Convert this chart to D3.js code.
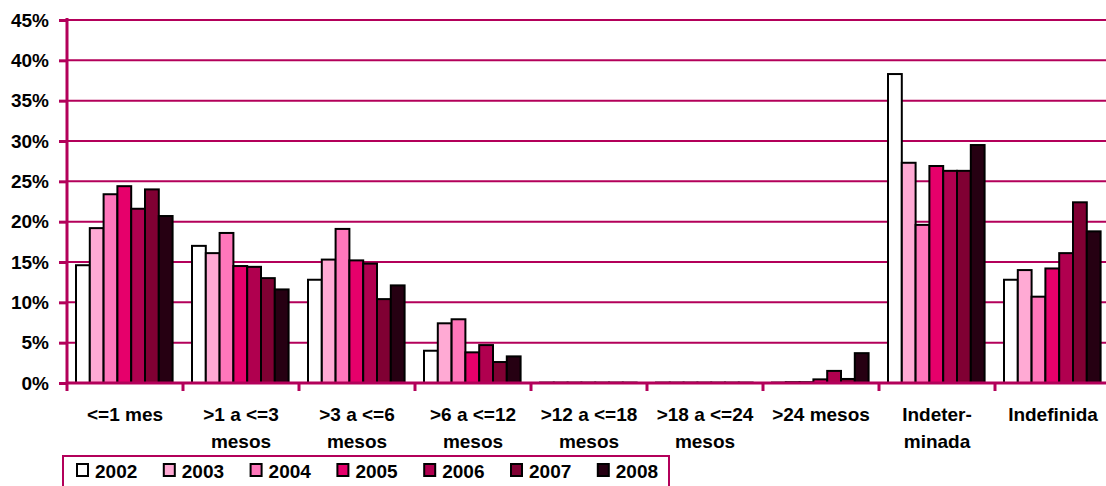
<!DOCTYPE html>
<html>
<head>
<meta charset="utf-8">
<script src="https://cdn.jsdelivr.net/npm/d3@7"></script>
<style>
  body { margin: 0; background: #fff; }
  svg { display: block; font-family: "Liberation Sans", Arial, sans-serif; font-weight: bold; }
</style>
</head>
<body>
<div id="chart"></div>
<script>
var width = 1106,
    height = 486;

var categories = [["<=1 mes"], [">1 a <=3", "mesos"], [">3 a <=6", "mesos"], [">6 a <=12", "mesos"],
  [">12 a <=18", "mesos"], [">18 a <=24", "mesos"], [">24 mesos"], ["Indeter-", "minada"], ["Indefinida"]];
var years = ["2002", "2003", "2004", "2005", "2006", "2007", "2008"];
var colors = ["#ffffff", "#ffaad4", "#ff77bb", "#e6006b", "#b0004f", "#800033", "#260012"];

// one array per year, values in % per category
var v2002 = [14.6, 17.0, 12.8, 4.0, 0.05, 0.05, 0.05, 38.3, 12.8];
var v2003 = [19.2, 16.1, 15.3, 7.4, 0.05, 0.05, 0.1, 27.3, 14.0];
var v2004 = [23.4, 18.6, 19.1, 7.9, 0.05, 0.05, 0.1, 19.6, 10.7];
var v2005 = [24.4, 14.5, 15.2, 3.8, 0.05, 0.05, 0.45, 26.9, 14.2];
var v2006 = [21.6, 14.4, 14.8, 4.7, 0.05, 0.05, 1.5, 26.3, 16.1];
var v2007 = [24.0, 13.0, 10.4, 2.6, 0.05, 0.05, 0.5, 26.3, 22.4];
var v2008 = [20.7, 11.6, 12.1, 3.3, 0.05, 0.05, 3.7, 29.5, 18.8];
var series = [v2002, v2003, v2004, v2005, v2006, v2007, v2008];
var yTicks = [0, 5, 10, 15, 20, 25, 30, 35, 40, 45];

var grid = "#b3005a";
var plotLeft = 67, plotRight = 67 + 9 * 116, plotTop = 20, plotBottom = 383;
var fs = 19;

var svg = d3.select("#chart").append("svg")
    .attr("width", width)
    .attr("height", height);

var x0 = d3.scaleBand().domain(d3.range(categories.length)).range([plotLeft, plotRight]);
var y = d3.scaleLinear().domain([0, 45]).range([plotBottom, plotTop]);
var barW = 13.8;

// gridlines
svg.append("g").selectAll("line")
    .data(yTicks.slice(1))
    .enter().append("line")
    .attr("x1", plotLeft).attr("x2", plotRight)
    .attr("y1", function(d) { return y(d) }).attr("y2", function(d) { return y(d) })
    .attr("stroke", grid).attr("stroke-width", 2);

// bars
var groups = svg.append("g").selectAll("g")
    .data(categories)
    .enter().append("g")
    .attr("transform", function(d, i) { return "translate(" + (x0(i) + 9) + ",0)" });

groups.selectAll("rect")
    .data(function(d, i) { return years.map(function(yr, j) { return { year: yr, j: j, v: series[j][i] } }) })
    .enter().append("rect")
    .attr("x", function(d) { return d.j * barW })
    .attr("width", barW)
    .attr("y", function(d) { return y(d.v) })
    .attr("height", function(d) { return plotBottom - y(d.v) })
    .attr("fill", function(d) { return colors[d.j] })
    .attr("stroke", "#000")
    .attr("stroke-width", 2);

// y axis
var yAxis = svg.append("g").attr("transform", "translate(" + plotLeft + ",0)")
    .call(d3.axisLeft(y).tickValues(yTicks).tickSize(8).tickFormat(function(d) { return d + "%" }));
yAxis.select(".domain").remove();
yAxis.selectAll(".tick line").attr("stroke", grid).attr("stroke-width", 3);
yAxis.selectAll(".tick text").attr("fill", "#000").attr("font-size", fs).attr("x", -18)
    .attr("font-family", "Liberation Sans, Arial, sans-serif").attr("font-weight", "bold");
svg.append("line").attr("x1", plotLeft).attr("x2", plotLeft).attr("y1", plotTop - 2).attr("y2", plotBottom + 1)
    .attr("stroke", grid).attr("stroke-width", 3);

// x axis
svg.append("line").attr("x1", plotLeft).attr("x2", plotRight).attr("y1", plotBottom).attr("y2", plotBottom)
    .attr("stroke", grid).attr("stroke-width", 3);
svg.append("g").selectAll("line")
    .data(d3.range(categories.length + 1))
    .enter().append("line")
    .attr("x1", function(d) { return plotLeft + d * x0.bandwidth() })
    .attr("x2", function(d) { return plotLeft + d * x0.bandwidth() })
    .attr("y1", plotBottom).attr("y2", plotBottom + 8)
    .attr("stroke", grid).attr("stroke-width", 3);

var labels = svg.append("g").selectAll("text")
    .data(categories)
    .enter().append("text")
    .attr("text-anchor", "middle")
    .attr("font-size", fs)
    .attr("x", function(d, i) { return x0(i) + x0.bandwidth() / 2 });
labels.selectAll("tspan")
    .data(function(d) { return d })
    .enter().append("tspan")
    .attr("x", function() { return d3.select(this.parentNode).attr("x") })
    .attr("y", function(d, i) { return 421 + i * 27 })
    .text(function(d) { return d });

// legend
svg.append("rect").attr("x", 63).attr("y", 456).attr("width", 606).attr("height", 40)
    .attr("fill", "none").attr("stroke", grid).attr("stroke-width", 2);
var leg = svg.append("g").selectAll("g")
    .data(years)
    .enter().append("g")
    .attr("transform", function(d, i) { return "translate(" + (77 + i * 86.8) + ",464)" });
leg.append("rect").attr("width", 11).attr("height", 12)
    .attr("fill", function(d, i) { return colors[i] })
    .attr("stroke", "#000").attr("stroke-width", 2);
leg.append("text").attr("x", 18).attr("y", 14).attr("font-size", fs).text(function(d) { return d });
</script>
</body>
</html>
